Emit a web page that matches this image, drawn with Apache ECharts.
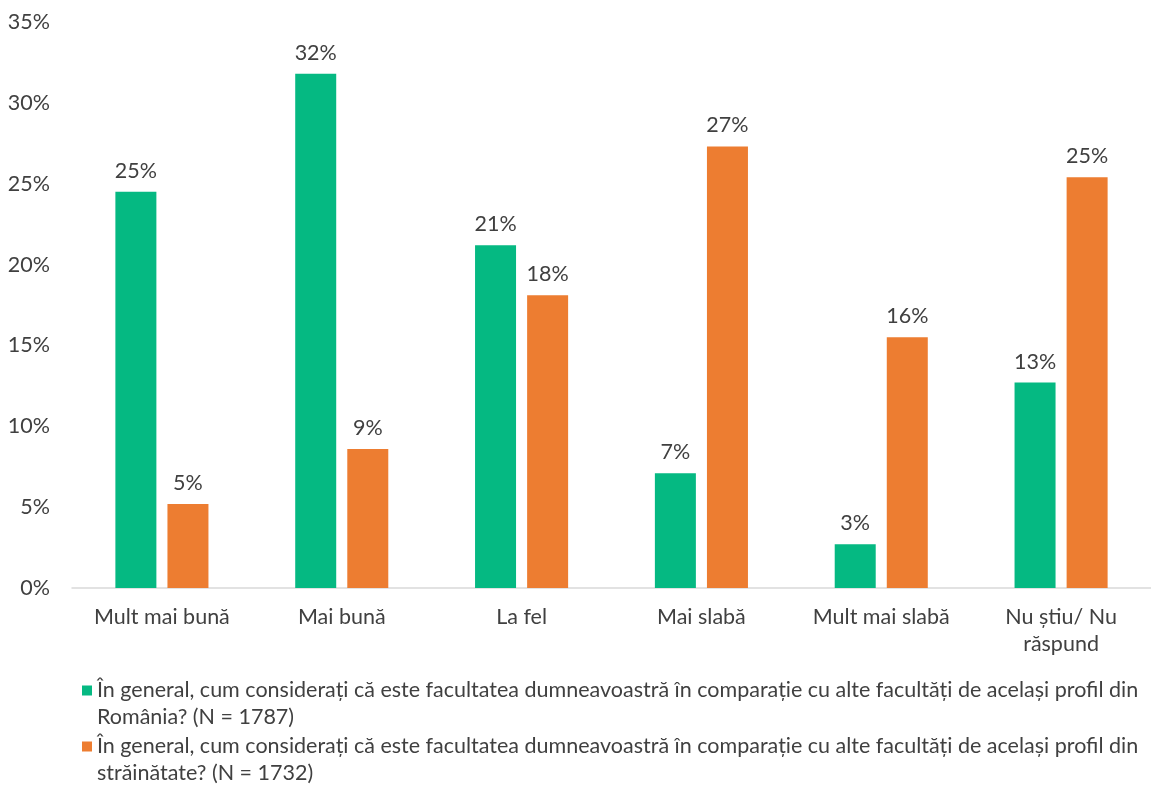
<!DOCTYPE html>
<html>
<head>
<meta charset="utf-8">
<script src="https://cdn.jsdelivr.net/npm/echarts@6/dist/echarts.min.js"></script>
<style>html,body{margin:0;padding:0;background:#fff;}#c{width:1151px;height:786px;}</style>
</head>
<body>
<div id="c"></div>
<script>
var categories = ['Mult mai bună', 'Mai bună', 'La fel', 'Mai slabă', 'Mult mai slabă', 'Nu știu/ Nu\nrăspund'];
var seriesNames = [
  'În general, cum considerați că este facultatea dumneavoastră în comparație cu alte facultăți de același profil din\nRomânia? (N = 1787)',
  'În general, cum considerați că este facultatea dumneavoastră în comparație cu alte facultăți de același profil din\nstrăinătate? (N = 1732)'
];
var romania = [24.5, 31.8, 21.2, 7.1, 2.7, 12.7];
var strainatate = [5.2, 8.6, 18.1, 27.3, 15.5, 25.4];
var yTicks = [0, 5, 10, 15, 20, 25, 30, 35];

var FONT = 'Lato';
var FS = 21.5;
var TXT = '#404040';
var chart = echarts.init(document.getElementById('c'));
function lbl() {
  return {
    show: true, position: 'top', distance: 10,
    color: TXT, fontFamily: FONT, fontSize: FS,
    formatter: function (p) { return Math.round(p.value) + '%'; }
  };
}
function legendCfg(name, top) {
  return {
    data: [name], left: 82, top: top, padding: 0,
    icon: 'rect', itemWidth: 10, itemHeight: 10, itemGap: 0,
    selectedMode: false,
    formatter: function (n) { return '\n' + n; },
    textStyle: { color: TXT, fontFamily: FONT, fontSize: FS, lineHeight: 27 }
  };
}
chart.setOption({
  animation: false,
  backgroundColor: '#fff',
  grid: { left: 72, top: 22, width: 1090, height: 566, containLabel: false },
  legend: [legendCfg(seriesNames[0], 650), legendCfg(seriesNames[1], 706)],
  xAxis: {
    type: 'category', data: categories,
    axisLine: { lineStyle: { color: '#d9d9d9', width: 1.5 } },
    axisTick: { show: false },
    axisLabel: { color: TXT, fontFamily: FONT, fontSize: FS, lineHeight: 27, margin: 16, interval: 0 }
  },
  yAxis: {
    type: 'value', min: yTicks[0], max: yTicks[yTicks.length - 1], interval: 5,
    splitLine: { show: false }, axisLine: { show: false }, axisTick: { show: false },
    axisLabel: { color: TXT, fontFamily: FONT, fontSize: FS, margin: 22, formatter: '{value}%' }
  },
  series: [
    { name: seriesNames[0], type: 'bar', data: romania, barWidth: 41, barGap: '27%', itemStyle: { color: '#05B982' }, label: lbl() },
    { name: seriesNames[1], type: 'bar', data: strainatate, barWidth: 41, itemStyle: { color: '#ED7D31' }, label: lbl() }
  ]
});
</script>
</body>
</html>
